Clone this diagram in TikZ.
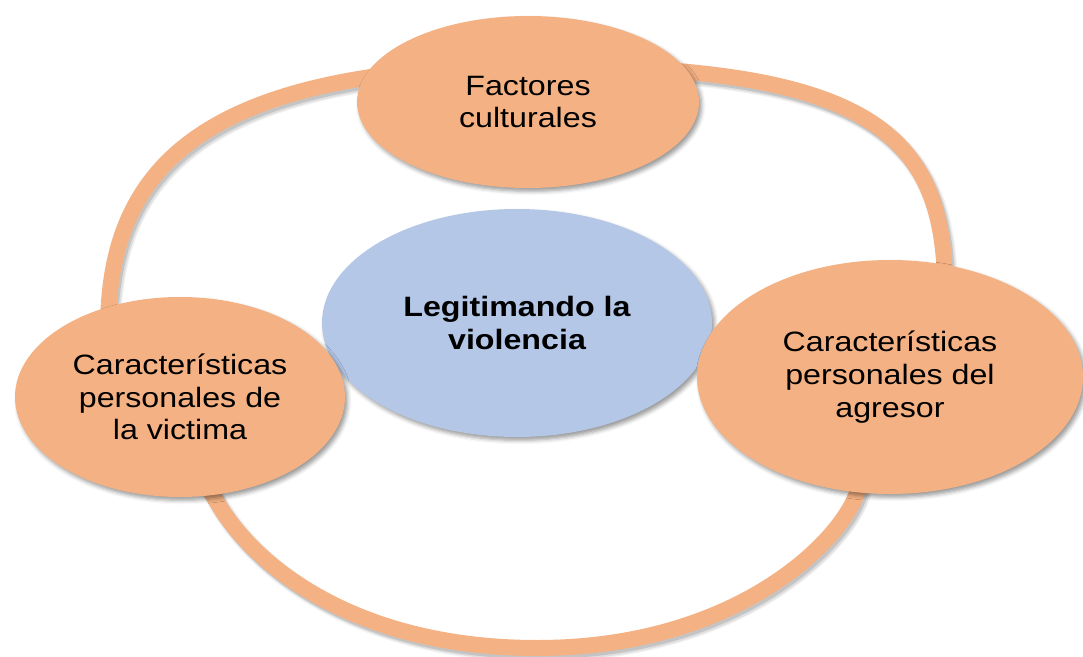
\documentclass[tikz,border=0pt]{standalone}
\usepackage{fontspec}
\setmainfont{Liberation Sans}
\newfontfamily\bubblefont[FakeStretch=1.15]{Liberation Sans}
\usetikzlibrary{shapes.geometric,shadows.blur}

\definecolor{peach}{HTML}{F4B183}
\definecolor{paleblue}{HTML}{B4C7E7}

\tikzset{
    bubble/.style={ellipse, fill=peach, inner sep=0pt, align=center,
        font=\bubblefont\fontsize{21}{24.5}\selectfont,
        blur shadow={shadow xshift=2pt, shadow yshift=-2.5pt, shadow blur radius=3pt, shadow opacity=40}},
    core/.style={bubble, fill=paleblue, font=\bubblefont\bfseries\fontsize{21}{24.5}\selectfont}
}

\begin{document}
\begin{tikzpicture}[x=0.75pt, y=-0.75pt]
    \useasboundingbox (0,0) rectangle (1083,657);

    % Ring behind the bubbles (soft shadow layers first, then the ring itself)
    \foreach \dx/\dy/\w/\col/\op in {3/4/15pt/black/0.05, 3/4/13pt/black/0.08, 2/3/12pt/black/0.12, 0/0/12pt/peach/1} {
        \draw[line width=\w, \col, opacity=\op, shift={(\dx,\dy)}]
            (540,66) .. controls (865,66) and (945,130) .. (945,290)
            .. controls (945,360) and (876,430) .. (858,490)
            .. controls (843,540) and (737,648) .. (537,648)
            .. controls (357,648) and (252.5,567) .. (214,497)
            .. controls (186.5,447) and (108,390) .. (108,330)
            .. controls (108,172) and (195,66) .. cycle;
    }

    % Central idea
    \node[core, minimum width=292.5pt, minimum height=171pt] (centro) at (517,323) {Legitimando la\\violencia};

    % Surrounding factors
    \node[bubble, minimum width=256.5pt, minimum height=129pt] (cultura) at (528,102) {Factores\\culturales};
    \node[bubble, minimum width=247.5pt, minimum height=150pt] (victima) at (180,397) {Características\\personales de\\la victima};
    \node[bubble, minimum width=289.5pt, minimum height=175.5pt] (agresor) at (890,377) {Características\\personales del\\agresor};

\end{tikzpicture}
\end{document}
